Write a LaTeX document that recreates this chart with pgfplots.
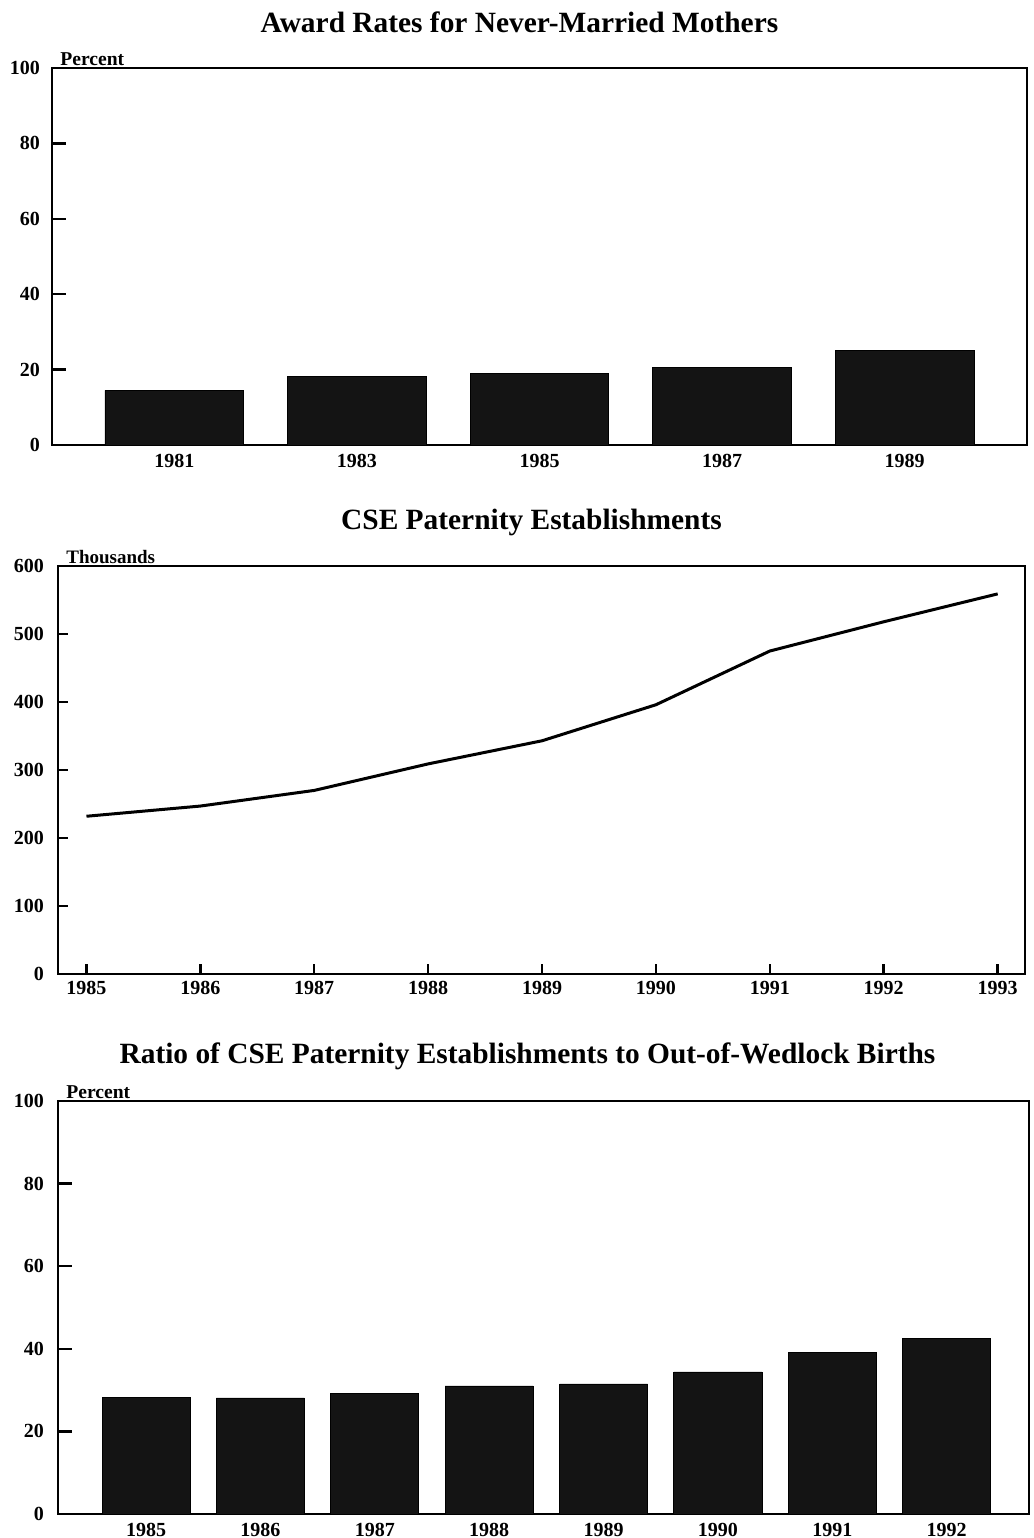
\documentclass[border=0pt]{standalone}
\usepackage{fontspec}
\setmainfont{Liberation Serif}
\usepackage{pgfplots}
\pgfplotsset{compat=1.18}
\begin{document}
\begin{tikzpicture}
\useasboundingbox (0,0) rectangle (517pt,-769pt);
\pgfplotsset{
  every axis/.append style={
    scale only axis,
    axis line style={line width=1.2pt},
    /pgf/number format/assume math mode=true,
    /pgf/number format/1000 sep={},
    tick label style={font=\fontsize{10}{12}\selectfont\bfseries},
    ytick pos=left,
    tick align=inside,
    major tick length=7pt,
    every tick/.style={line width=1.2pt, black},
    title style={font=\fontsize{14.7}{16}\selectfont\bfseries, at={(0.5,1)}, anchor=center},
    clip=false,
  }
}
% Panel 1
\begin{axis}[at={(26pt,-222.5pt)}, anchor=south west,
  width=487.5pt, height=188.5pt,
  title={Award Rates for Never-Married Mothers},
  title style={yshift=17pt, xshift=-10pt},
  ymin=0, ymax=100, ytick={0,20,40,60,80,100},
  y tick label style={xshift=-2.5pt},
  xmin=-0.67, xmax=4.67,
  xtick={0,1,2,3,4}, xticklabels={1981,1983,1985,1987,1989},
  x tick style={draw=none},
  x tick label style={yshift=6pt},
  ybar, bar width=0.76, bar shift=0pt]
\addplot[fill=black!92, draw=black] coordinates {(0,14.5) (1,18.1) (2,19.0) (3,20.6) (4,25.1)};
\node[anchor=south west, font=\fontsize{9.8}{10}\selectfont\bfseries, inner sep=1pt, xshift=3pt] at (rel axis cs:0,1) {Percent};
\end{axis}
% Panel 2
\begin{axis}[at={(29pt,-487pt)}, anchor=south west,
  width=483.5pt, height=204pt,
  title={CSE Paternity Establishments},
  title style={yshift=16pt, xshift=-5pt},
  ymin=0, ymax=600, ytick={0,100,200,300,400,500,600},
  y tick label style={xshift=-3.5pt},
  xmin=1984.75, xmax=1993.24,
  xtick={1985,...,1993}, xtick pos=bottom,
  major tick length=5pt]
\addplot[black, line width=1.5pt] coordinates {(1985,232) (1986,247) (1987,270) (1988,309) (1989,343) (1990,396) (1991,475) (1992,518) (1993,559)};
\node[anchor=south west, font=\fontsize{9.5}{10}\selectfont\bfseries, inner sep=1pt, xshift=3pt] at (rel axis cs:0,1) {Thousands};
\end{axis}
% Panel 3
\begin{axis}[at={(29pt,-757pt)}, anchor=south west,
  width=485.5pt, height=206.5pt,
  title={Ratio of CSE Paternity Establishments to Out-of-Wedlock Births},
  title style={yshift=16.5pt, xshift=-8pt},
  ymin=0, ymax=100, ytick={0,20,40,60,80,100},
  y tick label style={xshift=-3.5pt},
  xmin=-0.77, xmax=7.72,
  xtick={0,...,7}, xticklabels={1985,1986,1987,1988,1989,1990,1991,1992},
  x tick style={draw=none},
  x tick label style={yshift=6pt},
  ybar, bar width=0.77, bar shift=0pt]
\addplot[fill=black!92, draw=black] coordinates {(0,28.3) (1,28.1) (2,29.1) (3,31.0) (4,31.5) (5,34.4) (6,39.2) (7,42.6)};
\node[anchor=south west, font=\fontsize{9.8}{10}\selectfont\bfseries, inner sep=1pt, xshift=3pt] at (rel axis cs:0,1) {Percent};
\end{axis}
\end{tikzpicture}
\end{document}
